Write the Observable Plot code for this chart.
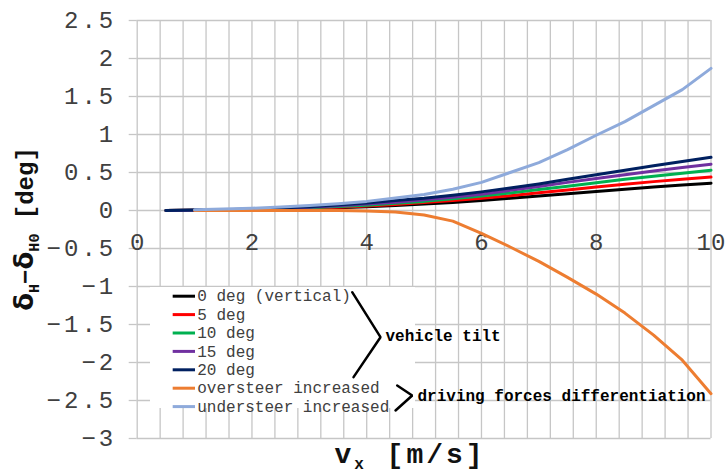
<!DOCTYPE html>
<html><head><meta charset="utf-8">
<script src="https://cdn.jsdelivr.net/npm/d3@7"></script>
<script src="https://cdn.jsdelivr.net/npm/@observablehq/plot@0.6"></script>
<style>
body{margin:0;background:#fff;}
g[aria-label="y-axis tick label"] text, g[aria-label="x tick labels"] text{letter-spacing:3px;}
</style>
</head><body><div id="chart"></div>
<script>
// speeds [m/s]
const xTilt = [0.5,1,1.5,2,2.5,3,3.5,4,4.5,5,5.5,6,6.5,7,7.5,8,8.5,9,9.5,10];
const xDrive = [1,1.5,2,2.5,3,3.5,4,4.5,5,5.5,6,6.5,7,7.5,8,8.5,9,9.5,10];
// vehicle tilt series
const tilt0  = [0,0.002,0.005,0.01,0.016,0.025,0.036,0.05,0.067,0.085,0.105,0.13,0.16,0.19,0.22,0.25,0.28,0.31,0.335,0.36];
const tilt5  = [0,0.003,0.006,0.012,0.019,0.03,0.044,0.06,0.08,0.105,0.13,0.16,0.195,0.235,0.27,0.31,0.345,0.38,0.41,0.44];
const tilt10 = [0,0.003,0.007,0.014,0.023,0.036,0.052,0.07,0.095,0.12,0.155,0.19,0.23,0.275,0.32,0.365,0.41,0.45,0.49,0.53];
const tilt15 = [0,0.004,0.009,0.017,0.028,0.043,0.062,0.085,0.11,0.14,0.175,0.215,0.265,0.315,0.37,0.42,0.47,0.52,0.565,0.61];
const tilt20 = [0,0.005,0.01,0.02,0.033,0.05,0.072,0.10,0.13,0.16,0.2,0.245,0.295,0.35,0.41,0.47,0.53,0.59,0.645,0.70];
// driving forces differentiation series
const oversteer  = [0,0,0,0,0,0,-0.005,-0.02,-0.06,-0.14,-0.30,-0.48,-0.67,-0.88,-1.10,-1.35,-1.64,-1.97,-2.41];
const understeer = [0.01,0.02,0.03,0.045,0.065,0.09,0.12,0.165,0.21,0.28,0.37,0.5,0.63,0.8,0.99,1.17,1.38,1.59,1.87];

const seriesLabels = ["0 deg (vertical)","5 deg","10 deg","15 deg","20 deg","oversteer increased","understeer increased"];
const seriesColors = ["#000000","#ff0000","#00b050","#7030a0","#002060","#ed7d31","#8eaadb"];
const seriesX = [xTilt,xTilt,xTilt,xTilt,xTilt,xDrive,xDrive];
const seriesY = [tilt0,tilt5,tilt10,tilt15,tilt20,oversteer,understeer];

const xTicks = [0,2,4,6,8,10];
const yTicks = [-3,-2.5,-2,-1.5,-1,-0.5,0,0.5,1,1.5,2,2.5];
const xGrid = d3.range(0, 26).map(k => k * 0.4);
const annTilt = "vehicle tilt";
const annDrive = "driving forces differentiation";

const fmt = d => d < 0 ? "\u2212" + String(-d) : String(d);
const gridStyle = {stroke: "#c6c6c6", strokeOpacity: 1, strokeWidth: 1.3};
const mono = "Liberation Mono, Courier New, monospace";

const legY = i => (210 - (295.7 + 18.4 * i)) / 76;

const marks = [
  Plot.gridX(xGrid, gridStyle),
  Plot.gridY(yTicks, gridStyle),
  Plot.axisY(yTicks, {tickSize: 8, tickPadding: 13, stroke: "#c6c6c6", strokeWidth: 1.3, fill: "#404040",
    fontSize: 24, fontFamily: mono, tickFormat: fmt, label: null}),
  Plot.text(xTicks, {x: d => d, y: 0, dy: 32, text: d => fmt(d), fontSize: 24, fontFamily: mono,
    fill: "#404040", ariaLabel: "x tick labels"}),
  Plot.rect([0], {x1: 0.232, x2: 4.85, y1: -1.013, y2: -2.605, fill: "white"})
];
seriesY.forEach((ys, s) => {
  marks.push(Plot.line(ys.map((y, i) => ({x: seriesX[s][i], y})),
    {x: "x", y: "y", stroke: seriesColors[s], strokeWidth: 3}));
});
seriesLabels.forEach((lab, i) => {
  marks.push(Plot.ruleY([legY(i)], {x1: 0.627, x2: 1.016, stroke: seriesColors[i], strokeWidth: 3}));
});
marks.push(Plot.text(seriesLabels, {x: 1.046, y: (d, i) => legY(i), text: d => d, textAnchor: "start",
  fontSize: 16, fontFamily: mono, fill: "#404040"}));
// braces
marks.push(Plot.line([[3.747,-1.075],[4.24,-1.667],[3.77,-2.193]], {x: d => d[0], y: d => d[1], stroke: "black", strokeWidth: 2.5, strokeLinejoin: "miter"}));
marks.push(Plot.line([[4.531,-2.303],[4.793,-2.434],[4.502,-2.632]], {x: d => d[0], y: d => d[1], stroke: "black", strokeWidth: 2.5, strokeLinejoin: "miter"}));
marks.push(Plot.text([annTilt], {x: 4.327, y: -1.645, text: d => d, textAnchor: "start", fontSize: 16, fontWeight: "bold", fontFamily: mono, fill: "black"}));
marks.push(Plot.text([annDrive], {x: 4.885, y: -2.434, text: d => d, textAnchor: "start", fontSize: 16, fontWeight: "bold", fontFamily: mono, fill: "black"}));

const plot = Plot.plot({
  width: 728, height: 473,
  marginLeft: 136.7, marginRight: 17.5, marginTop: 20, marginBottom: 35,
  x: {domain: [0, 10], axis: null},
  y: {domain: [-3, 2.5], axis: null},
  style: {background: "white", overflow: "visible"},
  marks
});

const svg = d3.select(plot);
// y axis title
const yt = svg.append("text")
  .attr("transform", "translate(33,229) rotate(-90)")
  .attr("text-anchor", "middle")
  .attr("font-family", mono).attr("font-weight", "bold").attr("font-size", 24).attr("fill", "#111");
yt.append("tspan").attr("font-family", "DejaVu Sans").attr("font-size", 26).text("\u03b4");
yt.append("tspan").attr("font-size", 15).attr("dy", 6).text("H");
yt.append("tspan").attr("dy", -6).text("\u2212");
yt.append("tspan").attr("font-family", "DejaVu Sans").attr("font-size", 26).text("\u03b4");
yt.append("tspan").attr("font-size", 15).attr("dy", 6).text("H0");
yt.append("tspan").attr("dy", -6).text(" [deg]");
// x axis title
const xt = svg.append("text")
  .attr("x", 410).attr("y", 463)
  .attr("text-anchor", "middle")
  .attr("font-family", mono).attr("font-weight", "bold").attr("font-size", 28).attr("fill", "#111")
  .attr("letter-spacing", 3);
xt.append("tspan").text("v");
xt.append("tspan").attr("font-size", 16).attr("dy", 6).text("x");
xt.append("tspan").attr("dy", -6).text(" [m/s]");

document.getElementById("chart").appendChild(plot);
</script>
</body></html>
